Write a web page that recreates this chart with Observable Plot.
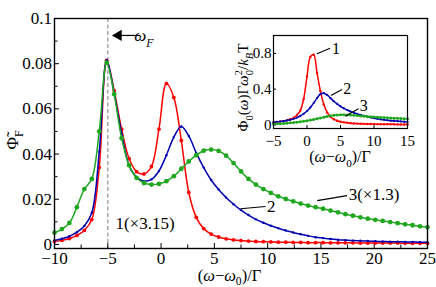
<!DOCTYPE html>
<html>
<head>
<meta charset="utf-8">
<script src="https://cdn.jsdelivr.net/npm/d3@7"></script>
<script src="https://cdn.jsdelivr.net/npm/@observablehq/plot@0.6"></script>
<style>
  html, body { margin: 0; padding: 0; background: #fff; }
  #chart { position: relative; width: 436px; height: 287px; overflow: hidden; font-family: "Liberation Serif", serif; }
  #chart svg { position: absolute; }
  #chart svg, #chart svg text { font-family: "Liberation Serif", serif !important; }
</style>
</head>
<body>
<div id="chart"></div>
<script>
// ---------------- data ----------------
// main panel: (omega - omega0)/Gamma
const omega = [-10,-9.3,-8.6,-7.9,-7.2,-6.5,-5.8,-5.1,-4.4,-3.7,
  -3,-2.3,-1.6,-0.9,-0.2,0.5,1.2,1.9,2.6,3.3,
  4,4.7,5.4,6.1,6.8,7.5,8.2,8.9,9.6,10.3,
  11,11.7,12.4,13.1,13.8,14.5,15.2,15.9,16.6,17.3,
  18,18.7,19.4,20.1,20.8,21.5,22.2,22.9,23.6,24.3,25];
// curve 1 (x3.15)
const phiF1 = [0.0013,0.0018,0.0026,0.0040,0.0062,0.0110,0.0340,0.0815,0.0680,0.0510,
  0.0380,0.0322,0.0312,0.0345,0.0510,0.0712,0.0650,0.0460,0.0230,0.0120,
  0.0070,0.0046,0.0033,0.0025,0.0020,0.0017,0.0015,0.0013,0.0012,0.0011,
  0.0010,0.0010,0.0009,0.0009,0.0008,0.0008,0.0008,0.0007,0.0007,0.0007,
  0.0007,0.0006,0.0006,0.0006,0.0006,0.0006,0.0006,0.0005,0.0005,0.0005,0.0005];
// curve 2
const phiF2 = [0.0018,0.0025,0.0036,0.0054,0.0082,0.0140,0.0410,0.0815,0.0670,0.0490,
  0.0350,0.0298,0.0280,0.0288,0.0325,0.0395,0.0475,0.0522,0.0480,0.0405,
  0.0340,0.0285,0.0243,0.0208,0.0178,0.0152,0.0130,0.0111,0.0096,0.0083,
  0.0072,0.0062,0.0053,0.0045,0.0038,0.0032,0.0028,0.0024,0.0021,0.0019,
  0.0017,0.0016,0.0015,0.0014,0.0013,0.0012,0.0012,0.0011,0.0011,0.0010,0.0010];
// curve 3 (x1.3)
const phiF3 = [0.0052,0.0068,0.0095,0.0165,0.0245,0.0290,0.0500,0.0805,0.0665,0.0470,
  0.0350,0.0295,0.0272,0.0265,0.0268,0.0280,0.0302,0.0335,0.0367,0.0395,
  0.0415,0.0420,0.0414,0.0393,0.0360,0.0323,0.0290,0.0265,0.0245,0.0228,
  0.0213,0.0201,0.0191,0.0181,0.0172,0.0165,0.0158,0.0150,0.0142,0.0134,
  0.0127,0.0120,0.0114,0.0109,0.0104,0.0099,0.0094,0.0089,0.0085,0.0080,0.0076];

// inset: Phi0(omega) Gamma omega0^2 / kB T
const omegaInset = [-5,-4.5,-4,-3.5,-3,-2.5,-2,-1.5,-1,-0.5,
  0,0.5,1,1.5,2,2.5,3,3.5,4,4.5,
  5,5.5,6,6.5,7,7.5,8,8.5,9,9.5,
  10,10.5,11,11.5,12,12.5,13,13.5,14,14.5,15];
const phi01 = [0.028,0.032,0.037,0.043,0.051,0.063,0.080,0.110,0.160,0.290,
  0.540,0.760,0.785,0.580,0.380,0.230,0.140,0.092,0.064,0.047,
  0.036,0.029,0.024,0.020,0.017,0.015,0.013,0.012,0.011,0.010,
  0.0092,0.0086,0.0080,0.0075,0.0070,0.0066,0.0062,0.0058,0.0055,0.0052,0.0050];
const phi02 = [0.030,0.034,0.038,0.043,0.050,0.058,0.068,0.082,0.100,0.125,
  0.155,0.195,0.245,0.300,0.345,0.355,0.335,0.300,0.265,0.235,
  0.208,0.186,0.167,0.150,0.136,0.123,0.112,0.102,0.093,0.084,
  0.075,0.068,0.062,0.057,0.052,0.048,0.045,0.042,0.039,0.036,0.034];
const phi03 = [0.010,0.012,0.014,0.017,0.020,0.023,0.027,0.031,0.036,0.041,
  0.047,0.054,0.061,0.069,0.078,0.087,0.095,0.102,0.108,0.111,
  0.113,0.113,0.112,0.110,0.107,0.104,0.101,0.098,0.095,0.092,
  0.089,0.087,0.084,0.082,0.080,0.078,0.076,0.074,0.072,0.070,0.068];

// ticks and labels
const xTicks = [-10,-5,0,5,10,15,20,25];
const xMinorTicks = [-7.5,-2.5,2.5,7.5,12.5,17.5,22.5];
const yTicks = [0,0.02,0.04,0.06,0.08,0.1];
const yMinorTicks = [0.01,0.03,0.05,0.07,0.09];
const insetXTicks = [-5,0,5,10,15];
const insetYTicks = [0,0.4,0.8];
const omegaF = -5;
const curveLabels = ["1(×3.15)", "2", "3(×1.3)"];
const insetCurveLabels = ["1", "2", "3"];

// ---------------- styling / layout ----------------
const FONT = '"Liberation Serif", serif';
const colors = ["#ff0000", "#0000b0", "#1fa81f"];
const dotR = [1.9, 1.2, 2.4];
const insetDotR = [1.2, 1.1, 1.5];

const rowsOf = (xs, ys) => xs.map((x, i) => ({x, y: ys[i]}));
const mainRows = [phiF1, phiF2, phiF3].map(ys => rowsOf(omega, ys));
const insetRows = [phi01, phi02, phi03].map(ys => rowsOf(omegaInset, ys));

const fmtX = d => d < 0 ? "\u2212" + (-d) : String(d);
const fmtY = d => d === 0 ? "0" : String(+(+d).toFixed(2));
const blank = () => "";

// annotation anchors (data coordinates)
const mainLabelPos = [{x: -4.28, y: 0.0094}, {x: 9.95, y: 0.0166}, {x: 17.6, y: 0.0220}];
const mainLeaders = [{x1: 7.45, y1: 0.0158, x2: 9.8, y2: 0.0168}, {x1: 14.65, y1: 0.0194, x2: 17.45, y2: 0.0216}];
const insetLabelPos = [{x: 3.72, y: 0.851}, {x: 5.42, y: 0.402}, {x: 7.87, y: 0.217}];
const insetLeaders = [{x1: 1.48, y1: 0.795, x2: 3.46, y2: 0.858}, {x1: 3.57, y1: 0.329, x2: 5.22, y2: 0.396}, {x1: 5.70, y1: 0.0975, x2: 7.69, y2: 0.18}];
const arrowF = [{x1: -1.94, x2: -4.0, y: 0.0925}];

const mainMarks = [
  Plot.ruleX([omegaF], {stroke: "#a8a8a8", strokeWidth: 1.5, strokeDasharray: "4,2.5"}),
  Plot.axisX({ticks: xTicks, tickSize: 0, tickPadding: 3, tickFormat: fmtX, label: null}),
  Plot.axisX({ticks: xTicks, tickSize: -5, tickFormat: blank, label: null}),
  Plot.axisX({ticks: xMinorTicks, tickSize: -3.5, tickFormat: blank, label: null}),
  Plot.axisY({ticks: yTicks, tickSize: 0, tickPadding: 2.5, tickFormat: fmtY, label: null}),
  Plot.axisY({ticks: yTicks, tickSize: -5, tickFormat: blank, label: null}),
  Plot.axisY({ticks: yMinorTicks, tickSize: -3.5, tickFormat: blank, label: null}),
];
mainRows.forEach((rows, k) => {
  mainMarks.push(Plot.line(rows, {x: "x", y: "y", stroke: colors[k], strokeWidth: 1.5, curve: "catmull-rom"}));
  mainMarks.push(Plot.dot(rows, {x: "x", y: "y", r: dotR[k], fill: colors[k], stroke: "none"}));
});
mainMarks.push(
  Plot.link(mainLeaders, {x1: "x1", y1: "y1", x2: "x2", y2: "y2", stroke: "black", strokeWidth: 1.1}),
  Plot.text(mainLabelPos, {x: "x", y: "y", text: (d, i) => curveLabels[i], textAnchor: "start", fontSize: 17, fill: "black"}),
  Plot.link(arrowF, {x1: "x1", x2: "x2", y1: "y", y2: "y", stroke: "black", strokeWidth: 1.2}),
  Plot.dot(arrowF, {x: "x2", y: "y", symbol: "triangle", rotate: -90, r: 4.2, fill: "black", stroke: "none"}),
  Plot.frame({stroke: "black", strokeWidth: 1.4})
);

const main = Plot.plot({
  width: 436, height: 287,
  marginLeft: 54, marginRight: 9, marginTop: 18, marginBottom: 39,
  x: {domain: [-10, 25]},
  y: {domain: [-0.0018, 0.1]},
  style: {fontFamily: FONT, fontSize: "17px", background: "white", color: "black"},
  marks: mainMarks
});

const insetMarks = [
  Plot.axisX({ticks: insetXTicks, tickSize: 0, tickPadding: 7, tickFormat: fmtX, label: null, fontSize: 15}),
  Plot.axisX({ticks: insetXTicks, tickSize: -3, tickFormat: blank, label: null}),
  Plot.axisY({ticks: insetYTicks, tickSize: 0, tickPadding: 2, tickFormat: fmtY, label: null, fontSize: 15}),
  Plot.axisY({ticks: insetYTicks, tickSize: -3, tickFormat: blank, label: null}),
];
insetRows.forEach((rows, k) => {
  insetMarks.push(Plot.line(rows, {x: "x", y: "y", stroke: colors[k], strokeWidth: 1.5, curve: "catmull-rom"}));
  insetMarks.push(Plot.dot(rows, {x: "x", y: "y", r: insetDotR[k], fill: colors[k], stroke: "none"}));
});
insetMarks.push(
  Plot.link(insetLeaders, {x1: "x1", y1: "y1", x2: "x2", y2: "y2", stroke: "black", strokeWidth: 1.1}),
  Plot.text(insetLabelPos, {x: "x", y: "y", text: (d, i) => insetCurveLabels[i], textAnchor: "start", fontSize: 16, fill: "black"}),
  Plot.frame({stroke: "black", strokeWidth: 1.2})
);

const inset = Plot.plot({
  width: 200, height: 150,
  marginLeft: 53, marginRight: 13, marginTop: 10, marginBottom: 47,
  x: {domain: [-5, 15]},
  y: {domain: [-0.04, 1.0]},
  style: {fontFamily: FONT, fontSize: "16px", background: "transparent", color: "black", overflow: "visible"},
  marks: insetMarks
});

const chart = document.getElementById("chart");
main.style.left = "0px"; main.style.top = "0px";
inset.style.left = "220px"; inset.style.top = "25px";
chart.appendChild(main);
chart.appendChild(inset);

// ---------------- rich-text labels (sub/superscripts) ----------------
function rich(parent, parts, size, subShift = 0.3) {
  let shift = 0;
  for (const p of parts) {
    const target = p.sub ? size * subShift : p.sup ? -size * 0.42 : 0;
    const ts = parent.append("tspan").text(p.t);
    if (target - shift !== 0) ts.attr("dy", target - shift);
    shift = target;
    if (p.sub || p.sup) ts.attr("font-size", size * 0.7);
    if (p.i) ts.attr("font-style", "italic");
    if (p.dx) ts.attr("dx", p.dx);
  }
}
const sx = main.scale("x"), sy = main.scale("y");
const ms = d3.select(main);
const xLabelParts = [{t: "("}, {t: "ω", i: true}, {t: "\u2212"}, {t: "ω", i: true}, {t: "0", sub: true}, {t: ")/Γ"}];

const mxl = ms.append("text").attr("x", (sx.range[0] + sx.range[1]) / 2 - 11).attr("y", 281.3)
  .attr("text-anchor", "middle").attr("font-size", 16.5).attr("fill", "black");
rich(mxl, xLabelParts, 16.5, 0.2);

const myl = ms.append("text").attr("transform", `translate(18,${(sy.range[0] + sy.range[1]) / 2 + 7}) rotate(-90)`)
  .attr("text-anchor", "middle").attr("font-size", 17).attr("fill", "black");
rich(myl, [{t: "Φ\u0303"}, {t: "F", sub: true}], 17);

const wf = ms.append("text").attr("x", sx.apply(-1.56)).attr("y", sy.apply(0.0896))
  .attr("font-size", 17).attr("fill", "black");
rich(wf, [{t: "ω", i: true}, {t: "F", sub: true, i: true}], 17);

const ix = inset.scale("x"), iy = inset.scale("y");
const is = d3.select(inset);
const ixl = is.append("text").attr("x", (ix.range[0] + ix.range[1]) / 2).attr("y", 137)
  .attr("text-anchor", "middle").attr("font-size", 16).attr("fill", "black");
rich(ixl, xLabelParts, 16);

const iyl = is.append("text").attr("transform", `translate(28,${(iy.range[0] + iy.range[1]) / 2 + 6}) rotate(-90)`)
  .attr("text-anchor", "middle").attr("font-size", 15).attr("fill", "black");
rich(iyl, [{t: "Φ"}, {t: "0", sub: true}, {t: "("}, {t: "ω", i: true}, {t: ")Γ"}, {t: "ω", i: true},
  {t: "0", sub: true}, {t: "2", sup: true, dx: -5.2}, {t: "/"}, {t: "k", i: true}, {t: "B", sub: true, i: true}, {t: "T"}], 15);
</script>
</body>
</html>
